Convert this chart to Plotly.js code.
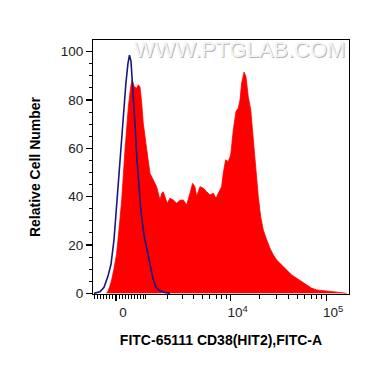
<!DOCTYPE html>
<html><head><meta charset="utf-8">
<script src="https://cdn.plot.ly/plotly-3.0.1.min.js"></script>
<style>html,body{margin:0;padding:0;background:#fff;}#chart{width:370px;height:367px;}</style>
</head><body><div id="chart"></div>
<script>
// x values are in display (biexponential) units, y in relative cell number
const cd38X = [-0.099,-0.084,-0.063,-0.045,-0.021,0.007,0.031,0.060,0.094,0.129,0.154,0.170,0.191,0.216,0.233,0.251,0.269,0.285,0.313,0.338,0.355,0.390,0.425,0.460,0.478,0.494,0.512,0.536,0.564,0.599,0.634,0.669,0.703,0.739,0.773,0.801,0.825,0.843,0.878,0.912,0.948,0.982,1.017,1.045,1.069,1.104,1.121,1.146,1.173,1.199,1.226,1.254,1.278,1.296,1.313,1.338,1.358,1.382,1.408,1.435,1.463,1.487,1.512,1.539,1.575,1.609,1.644,1.679,1.731,1.784,1.836,1.888,1.940,1.993,2.045,2.097,2.166,2.236,2.306,2.411];
const cd38Y = [0,0.8,3,5.5,10,16.5,26,38.6,59,77,85.5,88.3,85.5,84.8,86.2,85.5,78.6,70.4,62,53.8,49.7,46.9,44.1,38.6,41.4,42,40,37.2,39.3,38.6,37.2,38.5,38.6,36.5,41.4,45.5,44.1,40,44.1,43.5,42,40.7,41.4,39.3,41.4,44.1,49.7,55.2,54.5,57.2,67.6,75.2,76.6,80,86.9,91.5,89.7,81.4,75.9,63.5,49.7,40,31.7,26.2,22.1,18.6,15.9,13.8,11.7,9.6,7.6,6.2,4.8,3.4,2.1,1.4,1.1,0.7,0.3,0];
const isoX = [-0.230,-0.188,-0.167,-0.125,-0.084,-0.052,-0.021,0.010,0.042,0.073,0.104,0.125,0.141,0.157,0.178,0.199,0.220,0.240,0.261,0.293,0.324,0.355,0.387,0.418,0.460,0.512,0.564];
const isoY = [0,0.2,0.6,2.5,7,12,22,38,55,72,87,95,98.5,96,85,70,55,43,34,24,18,11,6,2.5,1,0.3,0];
const majorTickValues = [0, 10000, 100000];
const majorTickLabels = ['0', '10<sup>4</sup>', '10<sup>5</sup>'];
const minorTickValues = [-700,-600,-500,-400,-300,-200,-100,100,200,300,400,500,600,700,800,900,1000,2000,3000,4000,5000,6000,7000,8000,9000,20000,30000,40000,50000,60000,70000,80000,90000];

const C = 1271;
function biex(v){ return Math.asinh(v / C) / Math.LN10; }

const traces = [
  {x: cd38X, y: cd38Y, type: 'scatter', mode: 'lines', fill: 'tozeroy',
   fillcolor: '#ff0000', line: {color: '#ff0000', width: 0.8}, hoverinfo: 'skip'},
  {x: isoX, y: isoY, type: 'scatter', mode: 'lines',
   line: {color: '#161684', width: 1.6}, hoverinfo: 'skip'}
];

const axisFont = {family: 'Liberation Sans, Arial, sans-serif', size: 13.5, color: '#222'};
const titleFont = {family: 'Liberation Sans, Arial, sans-serif', size: 14, color: '#000', weight: 'bold'};

const layout = {
  width: 370, height: 367,
  margin: {l: 93, r: 21, t: 40, b: 73, pad: 0},
  paper_bgcolor: '#fff', plot_bgcolor: '#fff',
  showlegend: false,
  xaxis: {
    range: [-0.240, 2.435], fixedrange: true,
    tickmode: 'array', tickvals: majorTickValues.map(biex), ticktext: majorTickLabels,
    ticks: 'outside', ticklen: 6, tickwidth: 1.2, tickcolor: '#000',
    ticklabelshift: 7,
    minor: {tickmode: 'array', tickvals: minorTickValues.map(biex), ticks: 'outside', ticklen: 3.5, tickwidth: 1, tickcolor: '#000', showgrid: false},
    showgrid: false, zeroline: false,
    showline: true, linecolor: '#000', linewidth: 1, mirror: true,
    tickfont: axisFont,
    title: {text: 'FITC-65111 CD38(HIT2),FITC-A', font: titleFont, standoff: 15}
  },
  yaxis: {
    range: [-0.3, 104.8], fixedrange: true,
    tickmode: 'array', tickvals: [0, 20, 40, 60, 80, 100],
    ticks: 'outside', ticklen: 6, tickwidth: 1.2, tickcolor: '#000',
    minor: {dtick: 5, tick0: 0, ticks: 'outside', ticklen: 3.5, tickwidth: 1, tickcolor: '#000', showgrid: false},
    showgrid: false, zeroline: false,
    showline: true, linecolor: '#000', linewidth: 1, mirror: true,
    tickfont: axisFont,
    title: {text: 'Relative Cell Number', font: titleFont, standoff: 16}
  },
  annotations: [
    {text: 'WWW.PTGLAB.COM', xref: 'paper', yref: 'paper', x: 0.572, y: 0.961,
     xanchor: 'center', yanchor: 'middle', showarrow: false, xshift: 1, yshift: -1,
     font: {family: 'Liberation Sans, Arial, sans-serif', size: 22, color: '#b8b8b8'}},
    {text: 'WWW.PTGLAB.COM', xref: 'paper', yref: 'paper', x: 0.572, y: 0.961,
     xanchor: 'center', yanchor: 'middle', showarrow: false,
     font: {family: 'Liberation Sans, Arial, sans-serif', size: 22, color: '#f4f4f4'}}
  ]
};

Plotly.newPlot('chart', traces, layout, {displayModeBar: false, staticPlot: true});
</script>
</body></html>
